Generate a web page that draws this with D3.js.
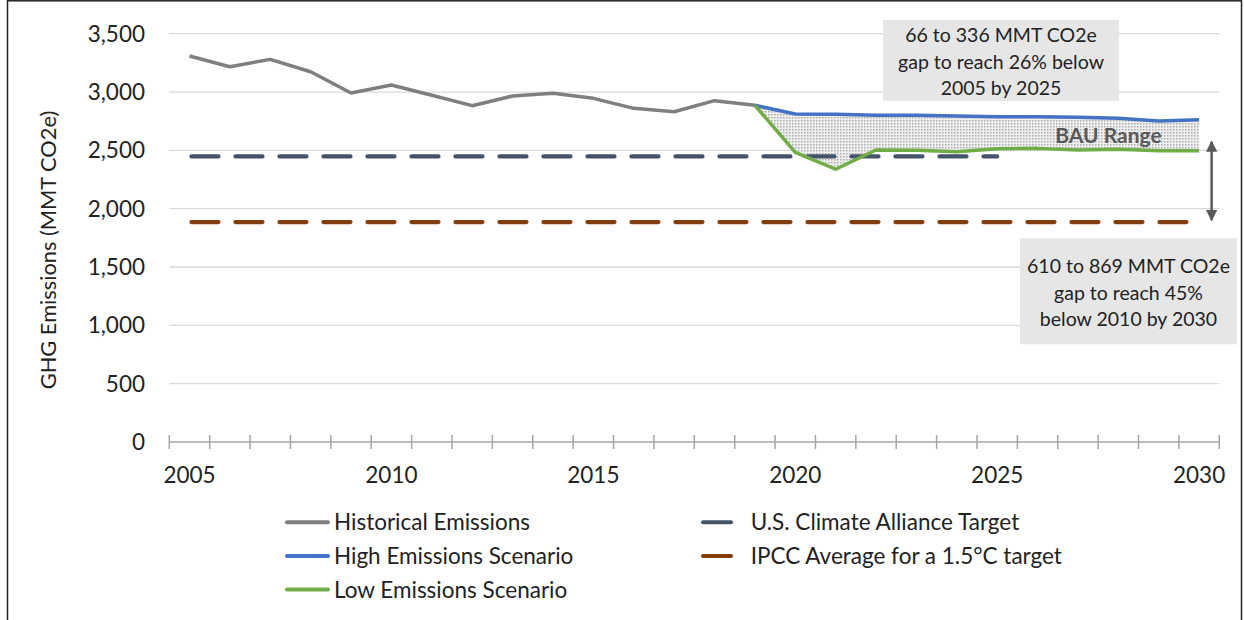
<!DOCTYPE html>
<html>
<head>
<meta charset="utf-8">
<style>
    body { margin: 0; background: #fff; }
    svg { display: block; font-family: Lato, 'Open Sans', sans-serif; }
</style>
</head>
<body>
<svg width="1244" height="620"></svg>

<script src="https://d3js.org/d3.v7.min.js"></script>
<script>
    // categories on the x axis
    const years = [2005, 2006, 2007, 2008, 2009, 2010, 2011, 2012, 2013, 2014, 2015, 2016, 2017,
        2018, 2019, 2020, 2021, 2022, 2023, 2024, 2025, 2026, 2027, 2028, 2029, 2030];
    const xLabels = [2005, 2010, 2015, 2020, 2025, 2030];
    const yTicks = [0, 500, 1000, 1500, 2000, 2500, 3000, 3500];

    // historical emissions (MMT CO2e)
    const histYears = [2005, 2006, 2007, 2008, 2009, 2010, 2011, 2012, 2013, 2014, 2015, 2016, 2017, 2018, 2019];
    const histValues = [3309, 3217, 3280, 3174, 2992, 3060, 2972, 2883, 2966, 2989, 2946, 2860, 2831, 2926, 2886];

    // scenarios
    const scenYears = [2019, 2020, 2021, 2022, 2023, 2024, 2025, 2026, 2027, 2028, 2029, 2030];
    const highValues = [2886, 2812, 2809, 2800, 2800, 2794, 2789, 2789, 2783, 2775, 2752, 2763];
    const lowValues = [2886, 2483, 2338, 2503, 2500, 2489, 2514, 2517, 2503, 2509, 2497, 2497];

    // targets
    const usTargetYears = [2005, 2025];
    const usTargetValue = 2448;
    const ipccYears = [2005, 2030];
    const ipccValue = 1885;

    const colors = {
        hist: "#7f7f7f",
        high: "#4472c4",
        low: "#70ad47",
        us: "#44546a",
        ipcc: "#843c0c"
    };

    let svg = d3.select("svg");
    let plot = { left: 169.3, right: 1219.3, top: 33.7, bottom: 442 };

    let x = d3.scaleBand().domain(years).range([plot.left, plot.right]).padding(0);
    let xc = d => x(d) + x.bandwidth() / 2;
    let y = d3.scaleLinear().domain([0, 3500]).range([plot.bottom, plot.top]);

    // dotted fill for the BAU range
    let defs = svg.append("defs");
    let pat = defs.append("pattern")
        .attr("id", "dots")
        .attr("width", 3).attr("height", 3)
        .attr("patternUnits", "userSpaceOnUse");
    pat.append("rect").attr("width", 3).attr("height", 3).attr("fill", "#efefef");
    pat.append("rect").attr("width", 1.5).attr("height", 1.5).attr("fill", "#ababab");

    defs.append("marker")
        .attr("id", "arrow")
        .attr("viewBox", "0 0 10 10")
        .attr("refX", 9).attr("refY", 5)
        .attr("markerWidth", 4.5).attr("markerHeight", 4.5)
        .attr("markerUnits", "strokeWidth")
        .attr("orient", "auto-start-reverse")
        .append("path")
        .attr("d", "M0,0 L10,5 L0,10 z")
        .attr("fill", "#595959");

    // frame
    svg.append("rect")
        .attr("x", 7.5).attr("y", 0.8)
        .attr("width", 1234).attr("height", 700)
        .attr("fill", "none")
        .attr("stroke", "#222")
        .attr("stroke-width", 1.5);

    // gridlines
    svg.append("g")
        .selectAll("line")
        .data(yTicks.filter(d => d > 0))
        .join("line")
        .attr("x1", plot.left).attr("x2", plot.right)
        .attr("y1", d => y(d)).attr("y2", d => y(d))
        .attr("stroke", "#d9d9d9")
        .attr("stroke-width", 1.3);

    // x axis line + cross ticks between categories
    svg.append("line")
        .attr("x1", plot.left).attr("x2", plot.right)
        .attr("y1", y(0)).attr("y2", y(0))
        .attr("stroke", "#a6a6a6").attr("stroke-width", 1.5);
    svg.append("g")
        .selectAll("line")
        .data(years.concat([null]))
        .join("line")
        .attr("x1", d => d === null ? plot.right : x(d))
        .attr("x2", d => d === null ? plot.right : x(d))
        .attr("y1", y(0) - 7).attr("y2", y(0) + 7)
        .attr("stroke", "#a6a6a6").attr("stroke-width", 1.5);

    // y tick labels
    svg.append("g")
        .selectAll("text")
        .data(yTicks)
        .join("text")
        .attr("x", 145)
        .attr("y", d => y(d))
        .attr("dy", "0.36em")
        .attr("text-anchor", "end")
        .attr("font-size", 22.5)
        .attr("fill", "#222")
        .text(d => d3.format(",")(d));

    // x tick labels
    svg.append("g")
        .selectAll("text")
        .data(xLabels)
        .join("text")
        .attr("x", d => xc(d))
        .attr("y", 483)
        .attr("text-anchor", "middle")
        .attr("font-size", 22.5)
        .attr("fill", "#222")
        .text(d => d);

    // y axis title
    svg.append("text")
        .attr("transform", "translate(55.5,250) rotate(-90)")
        .attr("text-anchor", "middle")
        .attr("font-size", 21.8)
        .attr("fill", "#222")
        .text("GHG Emissions (MMT CO2e)");

    // BAU range area
    let bau = scenYears.map((yr, i) => ({ yr, hi: highValues[i], lo: lowValues[i] }));
    svg.append("path")
        .datum(bau)
        .attr("d", d3.area().x(d => xc(d.yr)).y0(d => y(d.lo)).y1(d => y(d.hi)))
        .attr("fill", "url(#dots)");

    // target lines
    svg.append("line")
        .attr("x1", xc(usTargetYears[0])).attr("x2", xc(usTargetYears[1]))
        .attr("y1", y(usTargetValue)).attr("y2", y(usTargetValue))
        .attr("stroke", colors.us).attr("stroke-width", 4.2)
        .attr("stroke-linecap", "round")
        .attr("stroke-dasharray", "27,17")
        .attr("stroke-dashoffset", -2);
    svg.append("line")
        .attr("x1", xc(ipccYears[0])).attr("x2", xc(ipccYears[1]))
        .attr("y1", y(ipccValue)).attr("y2", y(ipccValue))
        .attr("stroke", colors.ipcc).attr("stroke-width", 4.2)
        .attr("stroke-linecap", "round")
        .attr("stroke-dasharray", "27,17")
        .attr("stroke-dashoffset", -2);

    let line = d3.line().x(d => xc(d[0])).y(d => y(d[1]));

    svg.append("path")
        .datum(scenYears.map((yr, i) => [yr, highValues[i]]))
        .attr("d", line)
        .attr("fill", "none").attr("stroke", colors.high)
        .attr("stroke-width", 3.5).attr("stroke-linejoin", "round");
    svg.append("path")
        .datum(scenYears.map((yr, i) => [yr, lowValues[i]]))
        .attr("d", line)
        .attr("fill", "none").attr("stroke", colors.low)
        .attr("stroke-width", 3.5).attr("stroke-linejoin", "round");
    svg.append("path")
        .datum(histYears.map((yr, i) => [yr, histValues[i]]))
        .attr("d", line)
        .attr("fill", "none").attr("stroke", colors.hist)
        .attr("stroke-width", 3.5).attr("stroke-linejoin", "round");

    // BAU label
    svg.append("text")
        .attr("x", xc(2027) + 30.5)
        .attr("y", 142.5)
        .attr("text-anchor", "middle")
        .attr("font-size", 21)
        .attr("font-weight", "bold")
        .attr("fill", "#595959")
        .text("BAU Range");

    // double arrow between low scenario and IPCC line
    let arrowX = xc(2030) + 12.5;
    svg.append("line")
        .attr("x1", arrowX).attr("x2", arrowX)
        .attr("y1", y(lowValues[lowValues.length - 1]) - 9)
        .attr("y2", y(ipccValue) - 2)
        .attr("stroke", "#595959").attr("stroke-width", 2.5)
        .attr("marker-start", "url(#arrow)")
        .attr("marker-end", "url(#arrow)");

    // note boxes
    function note(cx, top, w, h, lines, first, step) {
        let g = svg.append("g");
        g.append("rect")
            .attr("x", cx - w / 2).attr("y", top)
            .attr("width", w).attr("height", h)
            .attr("fill", "#e7e6e6");
        g.selectAll("text")
            .data(lines)
            .join("text")
            .attr("x", cx)
            .attr("y", (d, i) => top + first + i * step)
            .attr("text-anchor", "middle")
            .attr("font-size", 19.5)
            .attr("fill", "#222")
            .text(d => d);
    }
    note(1001, 20, 236, 81,
        ["66 to 336 MMT CO2e", "gap to reach 26% below", "2005 by 2025"], 22, 26.5);
    note(1128.5, 238.3, 217, 106,
        ["610 to 869 MMT CO2e", "gap to reach 45%", "below 2010 by 2030"], 35, 26.5);

    // legend
    let legendLeft = [
        { name: "Historical Emissions", color: colors.hist },
        { name: "High Emissions Scenario", color: colors.high },
        { name: "Low Emissions Scenario", color: colors.low }
    ];
    let legendRight = [
        { name: "U.S. Climate Alliance Target", color: colors.us },
        { name: "IPCC Average for a 1.5°C target", color: colors.ipcc }
    ];
    let rowY = [522.3, 556, 589.5];

    function legendCol(items, x0, x1, tx) {
        let g = svg.append("g").selectAll("g").data(items).join("g");
        g.append("line")
            .attr("x1", x0).attr("x2", x1)
            .attr("y1", (d, i) => rowY[i]).attr("y2", (d, i) => rowY[i])
            .attr("stroke", d => d.color).attr("stroke-width", 4)
            .attr("stroke-linecap", "round");
        g.append("text")
            .attr("x", tx)
            .attr("y", (d, i) => rowY[i])
            .attr("dy", "0.36em")
            .attr("font-size", 22.5)
            .attr("fill", "#222")
            .text(d => d.name);
    }
    legendCol(legendLeft, 287, 328, 334);
    legendCol(legendRight, 703, 731, 750.7);
</script>
</body>
</html>
